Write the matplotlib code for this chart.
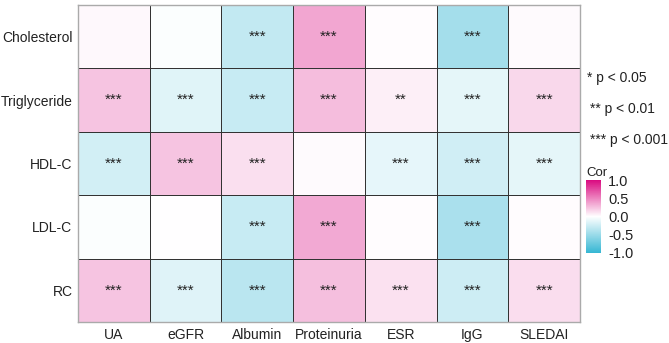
import numpy as np
import matplotlib
matplotlib.use('Agg')
import matplotlib.pyplot as plt
from matplotlib.colors import LinearSegmentedColormap

plt.rcParams['font.family'] = ['Liberation Sans', 'DejaVu Sans']

# data
rows = ['Cholesterol', 'Triglyceride', 'HDL-C', 'LDL-C', 'RC']
cols = ['UA', 'eGFR', 'Albumin', 'Proteinuria', 'ESR', 'IgG', 'SLEDAI']

cor = np.array([
    [0.03, -0.02, -0.30, 0.36, 0.01, -0.45, 0.02],
    [0.24, -0.15, -0.28, 0.27, 0.07, -0.13, 0.16],
    [-0.22, 0.24, 0.13, 0.02, -0.12, -0.23, -0.13],
    [-0.02, 0.00, -0.28, 0.35, 0.01, -0.42, 0.01],
    [0.24, -0.16, -0.34, 0.26, 0.12, -0.25, 0.14],
])

stars = [
    ['', '', '***', '***', '', '***', ''],
    ['***', '***', '***', '***', '**', '***', '***'],
    ['***', '***', '***', '', '***', '***', '***'],
    ['', '', '***', '***', '', '***', ''],
    ['***', '***', '***', '***', '***', '***', '***'],
]

legend_lines = ['* p < 0.05', '** p < 0.01', '*** p < 0.001']

cmap = LinearSegmentedColormap.from_list(
    'cor', ['#35B6D3', '#FFFFFF', '#DA0A80'])

fig = plt.figure(figsize=(6.69, 3.43), dpi=100)
ax = fig.add_axes([78 / 669, 1 - 322 / 343, (580 - 78) / 669, (322 - 5) / 343])

nr, nc = cor.shape
mesh = ax.pcolormesh(np.arange(nc + 1), np.arange(nr + 1), cor, cmap=cmap,
                     vmin=-1, vmax=1, edgecolor='#333333', linewidth=0.7)
ax.set_xlim(0, nc)
ax.set_ylim(nr, 0)

for i in range(nr):
    for j in range(nc):
        if stars[i][j]:
            ax.text(j + 0.5, i + 0.5, stars[i][j], ha='center', va='center',
                    fontsize=11, color='#222222')

ax.set_xticks(np.arange(nc) + 0.5, cols)
ax.set_yticks(np.arange(nr) + 0.5, rows)
ax.tick_params(length=0, labelsize=10, colors='#222222', pad=4)
for s in ax.spines.values():
    s.set_color('#aaaaaa')
    s.set_linewidth(1)

# significance legend
for k, t in enumerate(legend_lines):
    fig.text(587 / 669 + (0.004 if k else 0), 1 - (78 + 31 * k) / 343, t,
             fontsize=10, ha='left', va='center', color='#222222')

# colorbar
cax = fig.add_axes([586 / 669, 1 - 253 / 343, 15 / 669, 73 / 343])
cb = fig.colorbar(mesh, cax=cax, ticks=[-1, -0.5, 0, 0.5, 1])
cb.ax.set_yticklabels(['-1.0', '-0.5', '0.0', '0.5', '1.0'])
cb.ax.tick_params(length=2, color='white', labelsize=10.5, pad=3, labelcolor='#222222')
cb.outline.set_visible(False)
fig.text(586 / 669, 1 - 173 / 343, 'Cor', fontsize=9.5, ha='left', va='center',
         color='#222222')

fig.savefig('out.png', dpi=100)
